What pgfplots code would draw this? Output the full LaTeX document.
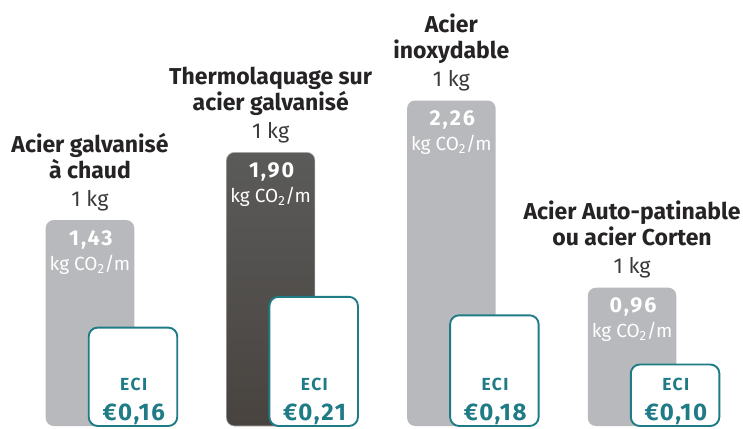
\documentclass[border=0pt]{standalone}
\usepackage{pgfplots}
\pgfplotsset{compat=1.18}
\usepackage{fontspec}
\setmainfont{Fira Sans}
\definecolor{bargray}{HTML}{B8B9BC}
\definecolor{darktop}{HTML}{5B5B5A}
\definecolor{darkbot}{HTML}{48433F}
\definecolor{ecit}{HTML}{1F7B86}
\definecolor{txt}{HTML}{262324}
\definecolor{txtb}{HTML}{3A3A3A}
\protected\def\kg{{\fontsize{21.5}{21.5}\selectfont\color{txtb}1 kg}}
\protected\def\labA{{\bfseries Acier galvanisé}\\{\bfseries à chaud}\\[2pt]\kg}
\protected\def\labB{{\bfseries Thermolaquage sur}\\{\bfseries acier galvanisé}\\[2pt]\kg}
\protected\def\labC{{\bfseries Acier}\\{\bfseries inoxydable}\\[2pt]\kg}
\protected\def\labD{{\bfseries Acier Auto-patinable}\\{\bfseries ou acier Corten}\\[2pt]\kg}
\protected\def\valline#1{{\bfseries\fontsize{21.5}{21.5}\selectfont\addfontfeatures{LetterSpace=9}#1\kern-0.09em}\\kg CO\textsubscript{2}/m}
\protected\def\eur#1{\addfontfeatures{LetterSpace=7}€#1\kern-0.07em}
\protected\def\eci{\addfontfeatures{LetterSpace=8}ECI\kern-0.08em}
\begin{document}
\begin{tikzpicture}
\begin{axis}[at={(0,0)}, anchor=south west, scale only axis, width=743pt, height=426pt,
  xmin=-0.498, xmax=3.614, ymin=0, ymax=2.958, axis lines=none, clip=false]
\addplot[ybar, bar width=0.49, bar shift=0, fill=bargray, draw=none, rounded corners=8pt]
  coordinates {(0,1.43) (2,2.26) (3,0.96)};
\addplot[ybar, bar width=0.49, bar shift=0, top color=darktop, bottom color=darkbot, draw=gray!60, line width=0.6pt, rounded corners=8pt]
  coordinates {(1,1.90)};
% category labels
\addplot[draw=none, nodes near coords, point meta=explicit symbolic,
  every node near coord/.append style={anchor=south, inner sep=0pt, yshift=9pt, align=center,
  font=\fontsize{23}{26}\selectfont, text=txt}]
  coordinates {(0,1.43) [\labA] (1,1.90) [\labB] (2,2.26) [\labC] (3,0.96) [\labD]};
% value labels
\addplot[draw=none, nodes near coords, point meta=explicit symbolic,
  every node near coord/.append style={anchor=north, inner sep=0pt, yshift=-10pt, align=center,
  font=\fontsize{19}{25}\selectfont, text=white}]
  coordinates {(0,1.43) [\valline{1,43}] (1,1.90) [\valline{1,90}] (2,2.26) [\valline{2,26}] (3,0.96) [\valline{0,96}]};
\end{axis}
\begin{axis}[at={(0,0)}, anchor=south west, scale only axis, width=743pt, height=426pt,
  xmin=-0.498, xmax=3.614, ymin=0, ymax=0.6927, axis lines=none, clip=false]
\addplot[ybar, bar width=0.49, bar shift=0.238, fill=white, draw=ecit, line width=1.9pt, rounded corners=9pt]
  coordinates {(0,0.16) (1,0.21) (2,0.18) (3,0.10)};
\addplot[draw=none, nodes near coords, point meta=explicit symbolic,
  every node near coord/.append style={anchor=base, inner sep=0pt, xshift=43pt, yshift=36pt,
  font=\bfseries\fontsize{17.5}{17.5}\selectfont, text=ecit}]
  coordinates {(0,0) [\eci] (1,0) [\eci] (2,0) [\eci] (3,0) [\eci]};
\addplot[draw=none, nodes near coords, point meta=explicit symbolic,
  every node near coord/.append style={anchor=base, inner sep=0pt, xshift=43pt, yshift=6pt,
  font=\bfseries\fontsize{24}{24}\selectfont, text=ecit}]
  coordinates {(0,0) [\eur{0,16}] (1,0) [\eur{0,21}] (2,0) [\eur{0,18}] (3,0) [\eur{0,10}]};
\end{axis}
\pgfresetboundingbox
\path (0,-2pt) rectangle (743pt,426pt);
\end{tikzpicture}
\end{document}
